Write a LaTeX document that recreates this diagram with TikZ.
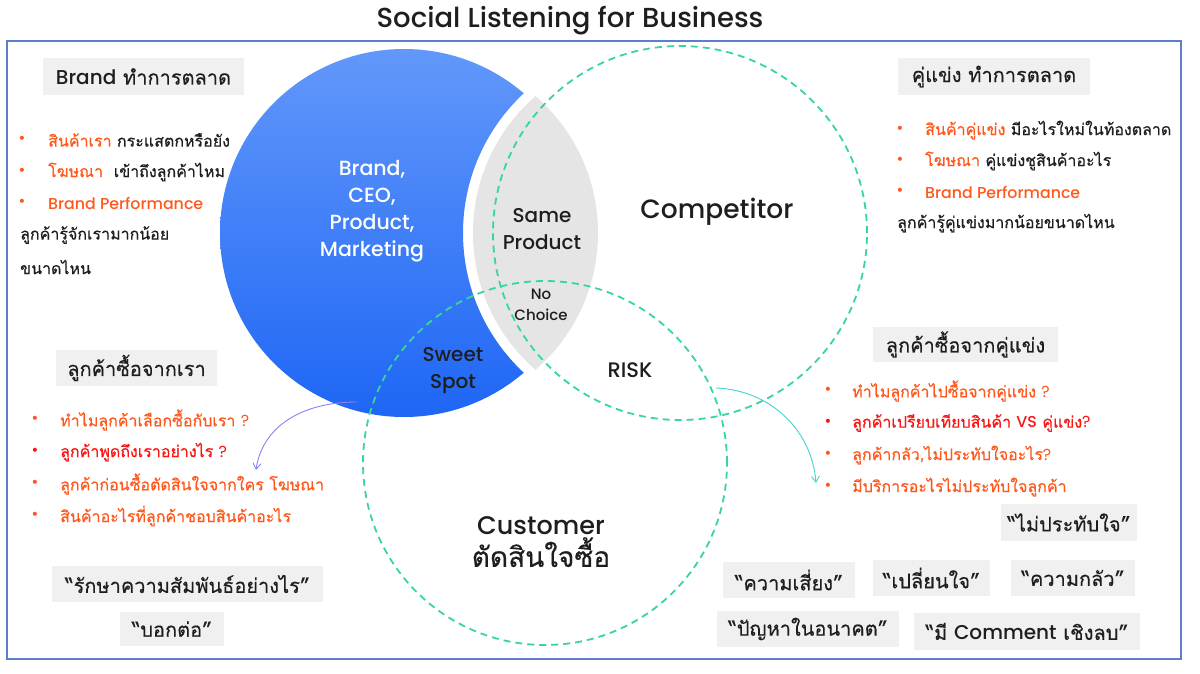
\documentclass[tikz,border=0pt]{standalone}
\usepackage{fontspec}
\setmainfont[Script=Thai, FakeBold=0.4]{Loma}
\newfontfamily\symf{DejaVu Sans}
\newfontfamily\lat{Poppins}
\newfontfamily\latm{Poppins Medium}
\usetikzlibrary{arrows.meta}
\definecolor{org}{RGB}{255,88,28}
\definecolor{redt}{RGB}{250,20,20}
\definecolor{boxg}{RGB}{240,240,240}
\definecolor{dgreen}{RGB}{55,215,155}
\definecolor{frameb}{RGB}{95,125,205}
\definecolor{lensg}{RGB}{229,229,229}
\definecolor{txt}{RGB}{30,30,30}
\definecolor{purp}{RGB}{140,130,245}
\definecolor{arrteal}{RGB}{70,210,210}
\definecolor{bluetop}{RGB}{98,152,250}
\definecolor{bluebot}{RGB}{30,102,245}
\tikzset{
  lbl/.style={fill=boxg, inner sep=0pt, text=txt, font=\fontsize{20}{24}\selectfont},
  qbox/.style={fill=boxg, inner sep=0pt, text=txt, font=\fontsize{20}{24}\selectfont},
  tx/.style={anchor=west, inner sep=0pt, text=txt, font=\fontsize{16}{19}\selectfont},
  latsm/.style={font=\latm\fontsize{15.8}{19}\selectfont},
  bul/.style={anchor=center, inner sep=0pt, text=org, font=\symf\fontsize{14}{16}\selectfont},
  venn/.style={circle, draw=dgreen, line width=1.8pt, dash pattern=on 7pt off 5pt, inner sep=0pt},
  ctr/.style={align=center, inner sep=0pt, text=txt},
  conn/.style={line width=0.9pt, -{Straight Barb[length=6pt,width=8pt]}}
}
\begin{document}
\begin{tikzpicture}[x=1pt,y=-1pt]
\useasboundingbox (0,0) rectangle (1200,674);
\fill[white] (0,0) rectangle (1200,674);
% title
\node[ctr, font=\latm\fontsize{27.5}{32}\selectfont] (title) at (570,21) {Social Listening for Business};
% frame
\draw[frameb, line width=1.5pt] (7,41) rectangle (1181,659);
% blue crescent
\begin{scope}[even odd rule]
  \clip (0,0) rectangle (1200,674) (654,233) circle (191);
  \shade[top color=bluetop, bottom color=bluebot] (404,233) circle (184);
\end{scope}
% gray lens
\begin{scope}
  \clip (654,233) circle (181);
  \fill[lensg] (417,233) circle (181);
\end{scope}
% dashed circles
\node[venn, minimum size=374pt] (comp) at (680,233) {};
\node[venn, minimum size=364pt] (cust) at (545,463) {};
% circle texts
\node[ctr, text=white, font=\latm\fontsize{20.5}{27}\selectfont] (brand) at (372,211) {Brand,\\CEO,\\Product,\\Marketing};
\node[ctr, font=\latm\fontsize{20}{27}\selectfont] (same) at (542,229) {Same\\Product};
\node[ctr, font=\latm\fontsize{15}{21}\selectfont] (nochoice) at (541,305) {No\\Choice};
\node[ctr, font=\latm\fontsize{20}{27}\selectfont] (sweet) at (453,371) {Sweet\\Spot};
\node[ctr, font=\latm\fontsize{21}{24}\selectfont] (risk) at (630,370) {RISK};
\node[ctr, font=\latm\fontsize{26.5}{30}\selectfont] (competitor) at (717,212) {Competitor};
\node[ctr, font=\fontsize{28}{32}\selectfont] (customer) at (541,542) {{\latm\fontsize{25.5}{32}\selectfont Customer}\\ตัดสินใจซื้อ};
% left top
\node[lbl, minimum width=201pt, minimum height=37pt] (h1) at (143.5,76.5) {{\latm\fontsize{20}{24}\selectfont Brand} ทำการตลาด};
\node[bul] (b11) at (22,140) {•};
\node[tx] (t11) at (48,140) {\textcolor{org}{สินค้าเรา} กระแสตกหรือยัง};
\node[bul] (b12) at (22,172) {•};
\node[tx] (t12) at (48,172) {\textcolor{org}{โฆษณา}\ \ เข้าถึงลูกค้าไหม};
\node[bul] (b13) at (22,203) {•};
\node[tx, text=org, latsm] (t13) at (48,203) {Brand Performance};
\node[tx] (t14) at (20,235) {ลูกค้ารู้จักเรามากน้อย};
\node[tx] (t15) at (20,267) {ขนาดไหน};
% right top
\node[lbl, minimum width=192pt, minimum height=37pt] (h2) at (994,76.5) {คู่แข่ง ทำการตลาด};
\node[bul] (b21) at (900,130) {•};
\node[tx] (t21) at (925,130) {\textcolor{org}{สินค้าคู่แข่ง} มีอะไรใหม่ในท้องตลาด};
\node[bul] (b22) at (900,161) {•};
\node[tx] (t22) at (925,161) {\textcolor{org}{โฆษณา} คู่แข่งชูสินค้าอะไร};
\node[bul] (b23) at (900,192) {•};
\node[tx, text=org, latsm] (t23) at (925,192) {Brand Performance};
\node[tx] (t24) at (897,223) {ลูกค้ารู้คู่แข่งมากน้อยขนาดไหน};
% left middle
\node[lbl, minimum width=161pt, minimum height=36pt] (h3) at (136.5,368) {ลูกค้าซื้อจากเรา};
\node[bul] (b31) at (35,420) {•};
\node[tx, text=org] (t31) at (60,420) {ทำไมลูกค้าเลือกซื้อกับเรา {\lat ?}};
\node[bul, text=redt] (b32) at (35,452) {•};
\node[tx, text=redt] (t32) at (60,452) {ลูกค้าพูดถึงเราอย่างไร {\lat ?}};
\node[bul] (b33) at (35,484) {•};
\node[tx, text=org] (t33) at (60,484) {ลูกค้าก่อนซื้อตัดสินใจจากใคร โฆษณา};
\node[bul] (b34) at (35,516) {•};
\node[tx, text=org] (t34) at (60,516) {สินค้าอะไรที่ลูกค้าชอบสินค้าอะไร};
\node[qbox, minimum width=271pt, minimum height=36pt] (q1) at (187.5,584) {“รักษาความสัมพันธ์อย่างไร”};
\node[qbox, minimum width=104pt, minimum height=34pt] (q2) at (172,629) {“บอกต่อ”};
% right middle
\node[lbl, minimum width=185pt, minimum height=35pt] (h4) at (965.5,344.5) {ลูกค้าซื้อจากคู่แข่ง};
\node[bul] (b41) at (828,391) {•};
\node[tx, text=org] (t41) at (852,391) {ทำไมลูกค้าไปซื้อจากคู่แข่ง {\lat ?}};
\node[bul, text=redt] (b42) at (828,423) {•};
\node[tx, text=redt] (t42) at (852,423) {ลูกค้าเปรียบเทียบสินค้า {\latm\fontsize{15.8}{19}\selectfont VS} คู่แข่ง{\lat ?}};
\node[bul] (b43) at (828,455) {•};
\node[tx, text=org] (t43) at (852,455) {ลูกค้ากลัว,ไม่ประทับใจอะไร{\lat ?}};
\node[bul] (b44) at (828,487) {•};
\node[tx, text=org] (t44) at (852,487) {มีบริการอะไรไม่ประทับใจลูกค้า};
% quote boxes right
\node[qbox, minimum width=136pt, minimum height=37pt] (q3) at (1069,522.5) {“ไม่ประทับใจ”};
\node[qbox, minimum width=132pt, minimum height=36pt] (q4) at (789,580) {“ความเสี่ยง”};
\node[qbox, minimum width=117pt, minimum height=36pt] (q5) at (931.5,578) {“เปลี่ยนใจ”};
\node[qbox, minimum width=124pt, minimum height=36pt] (q6) at (1073,578) {“ความกลัว”};
\node[qbox, minimum width=182pt, minimum height=36pt] (q7) at (808,629) {“ปัญหาในอนาคต”};
\node[qbox, minimum width=226pt, minimum height=37pt] (q8) at (1027,631.5) {“มี {\latm\fontsize{20}{24}\selectfont Comment} เชิงลบ”};
% arrows
\coordinate (pa) at (357,402);
\coordinate (pb) at (256,470);
\draw[conn, purp] (pa) .. controls (300,402) and (262,428) .. (pb);
\coordinate (ta) at (716,388);
\coordinate (tb) at (816,483);
\draw[conn, arrteal] (ta) .. controls (770,390) and (812,430) .. (tb);
\end{tikzpicture}
\end{document}
